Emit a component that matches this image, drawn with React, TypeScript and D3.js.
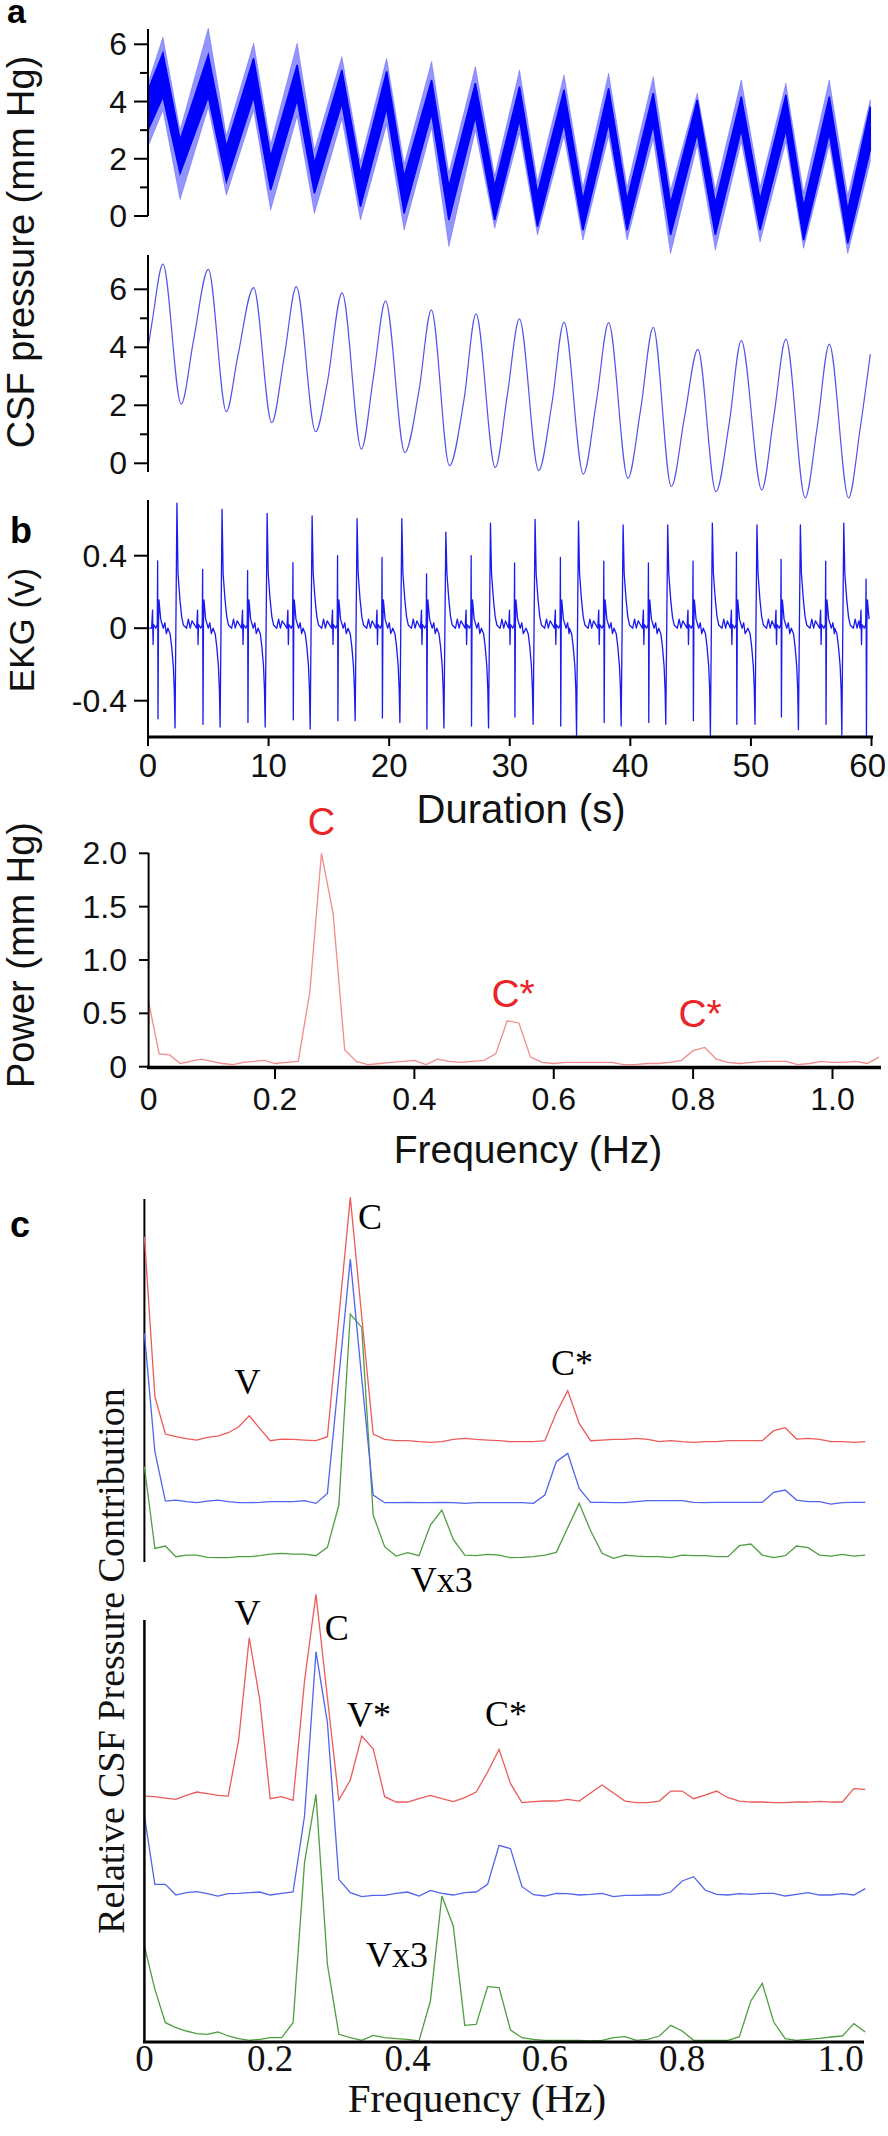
import React from 'react';
import * as d3 from 'd3';

const SANS = '"Liberation Sans", Arial, sans-serif';
const SERIF = '"Liberation Serif", "Times New Roman", serif';

// ---------- Panel a (top): raw CSF pressure, envelope at successive extrema (s, mm Hg) ----------
const rawTimes = [0, 1.24, 2.66, 5.0, 6.5, 8.76, 10.17, 12.37, 13.8, 16.08, 17.62, 19.79, 21.24, 23.52, 24.95, 27.15, 28.75, 30.81, 32.3, 34.5, 36.07, 38.2, 39.73, 41.9, 43.34, 45.55, 47.05, 49.2, 50.76, 52.9, 54.37, 56.5, 58.03, 59.9];
const rawOuterTop = [4.64, 6.25, 3.0, 6.56, 2.8, 6.04, 2.5, 6.04, 2.3, 5.57, 1.9, 5.51, 1.8, 5.4, 1.5, 5.22, 1.4, 5.1, 1.2, 4.93, 1.0, 4.99, 1.0, 4.87, 0.9, 4.29, 0.9, 4.75, 1.0, 4.64, 0.8, 4.75, 0.7, 4.06];
const rawInnerTop = [4.4, 5.69, 2.66, 5.63, 2.42, 5.51, 2.07, 5.28, 1.84, 5.1, 1.49, 5.05, 1.37, 4.75, 1.03, 4.64, 1.03, 4.52, 0.79, 4.41, 0.56, 4.46, 0.56, 4.29, 0.44, 4.06, 0.44, 4.17, 0.56, 4.23, 0.33, 4.17, 0.21, 3.82];
const rawInnerBottom = [3.0, 4.17, 1.49, 4.17, 1.2, 4.17, 0.91, 4.06, 0.79, 3.94, 0.33, 3.76, 0.09, 3.59, -0.14, 3.47, -0.14, 3.36, -0.37, 3.24, -0.49, 3.24, -0.49, 3.18, -0.66, 2.89, -0.66, 3.01, -0.49, 3.01, -0.84, 2.89, -0.96, 2.31];
const rawOuterBottom = [2.42, 3.7, 0.58, 3.8, 0.73, 3.7, 0.21, 3.5, 0.09, 3.4, -0.14, 3.2, -0.49, 3.1, -1.07, 3.0, -0.43, 2.9, -0.66, 2.8, -0.84, 2.8, -0.84, 2.7, -1.31, 2.5, -1.19, 2.6, -0.9, 2.6, -1.13, 2.5, -1.31, 1.9];

// ---------- Panel a (bottom): filtered CSF pressure, extrema and shoulders ----------
const smoothTimes = [0, 0.35, 1.24, 2.75, 3.78, 5.0, 6.5, 7.44, 8.76, 10.26, 11.3, 12.3, 13.9, 14.86, 16.1, 17.7, 18.7, 19.7, 21.3, 22.46, 23.5, 25.0, 26.2, 27.2, 28.8, 29.8, 30.8, 32.4, 33.5, 34.5, 36.1, 37.2, 38.2, 39.8, 40.85, 41.9, 43.4, 44.5, 45.6, 47.1, 48.2, 49.2, 50.9, 51.9, 52.9, 54.5, 55.5, 56.5, 58.1, 59.06, 59.9];
const smoothValues = [3.97, 4.9, 6.87, 2.04, 4.25, 6.69, 1.78, 3.68, 6.06, 1.4, 3.68, 6.09, 1.09, 2.76, 5.88, 0.49, 2.99, 5.6, 0.37, 2.47, 5.29, -0.08, 2.18, 5.15, -0.15, 2.36, 4.98, -0.25, 2.07, 4.87, -0.37, 2.18, 4.85, -0.52, 1.84, 4.69, -0.8, 1.61, 3.93, -0.98, 1.38, 4.23, -0.92, 1.61, 4.28, -1.19, 1.26, 4.11, -1.19, 1.2, 3.76];

// ---------- Panel b: EKG beats (s, V) ----------
const ekgMajorTimes = [2.40, 6.14, 9.88, 13.61, 17.34, 21.05, 24.7, 28.4, 32.1, 35.7, 39.4, 43.1, 46.8, 50.5, 54.1, 57.7];
const ekgMajorPeaks = [0.69, 0.656, 0.634, 0.619, 0.604, 0.604, 0.53, 0.58, 0.60, 0.59, 0.57, 0.57, 0.58, 0.57, 0.57, 0.58];
const ekgMajorTroughs = [-0.55, -0.545, -0.545, -0.556, -0.51, -0.52, -0.55, -0.55, -0.53, -0.59, -0.54, -0.53, -0.59, -0.53, -0.56, -0.59];
const ekgMinorTimes = [0.80, 4.53, 8.26, 12.02, 15.72, 19.41, 23.1, 26.8, 30.4, 34.2, 37.8, 41.5, 45.2, 48.8, 52.5, 56.2, 59.55];
const ekgMinorPeaks = [0.372, 0.325, 0.317, 0.361, 0.40, 0.39, 0.30, 0.40, 0.36, 0.39, 0.37, 0.36, 0.37, 0.42, 0.38, 0.37, 0.27];
const ekgMinorTroughs = [-0.50, -0.53, -0.52, -0.505, -0.51, -0.496, -0.556, -0.54, -0.49, -0.54, -0.52, -0.52, -0.51, -0.53, -0.49, -0.53, -0.60];
// waveform shapes read around one beat ('P' = peak, 'T' = trough of that beat)
const majorShapeDt = [-0.75, -0.57, -0.44, -0.3, -0.22, -0.16, 0, 0.09, 0.25, 0.39, 0.53, 0.8, 0.95, 1.1, 1.25];
const majorShapeV: (number | string)[] = [0.0, -0.03, -0.1, -0.21, -0.34, 'T', 'P', 0.30, 0.156, 0.064, 0.018, 0.0, 0.05, 0.0, 0.04];
const minorShapeDt = [-0.5, -0.42, -0.38, -0.34, -0.15, -0.03, 0, 0.03, 0.07, 0.11, 0.25, 0.47, 0.6, 0.72];
const minorShapeV: (number | string)[] = [0.0, 0.1, -0.09, 0.02, 0.0, 0.02, 'P', 'T', 0.03, 0.156, 0.05, 0.0, 0.03, -0.03];

// ---------- Power spectrum (bins of 1/60 Hz) ----------
const powerValues = [0.61, 0.12, 0.11, 0.03, 0.05, 0.07, 0.05, 0.03, 0.02, 0.04, 0.05, 0.06, 0.03, 0.04, 0.05, 0.70, 2.0, 1.44, 0.16, 0.05, 0.02, 0.03, 0.04, 0.05, 0.06, 0.02, 0.07, 0.05, 0.04, 0.05, 0.06, 0.12, 0.43, 0.41, 0.09, 0.04, 0.03, 0.04, 0.04, 0.04, 0.04, 0.04, 0.02, 0.02, 0.03, 0.03, 0.04, 0.06, 0.15, 0.18, 0.07, 0.04, 0.03, 0.04, 0.05, 0.05, 0.05, 0.02, 0.03, 0.05, 0.04, 0.04, 0.05, 0.03, 0.09];

// ---------- Panel c: relative contribution spectra (stacked, arbitrary units) ----------
const cTopRed = [97.5, 49.5, 38.3, 37.5, 36.9, 36.5, 37.3, 37.7, 38.7, 40.5, 43.8, 40.0, 36.3, 36.8, 36.7, 36.5, 36.3, 37.5, 73.5, 109.3, 73.5, 38.3, 36.7, 36.3, 36.3, 36.0, 35.8, 36.0, 36.7, 37.0, 36.7, 36.5, 36.3, 36.0, 36.0, 36.0, 36.3, 44.7, 51.3, 41.5, 36.3, 36.5, 36.7, 36.7, 37.0, 36.7, 36.0, 36.3, 36.0, 35.8, 36.0, 36.0, 36.3, 36.3, 36.3, 36.3, 39.3, 40.2, 36.8, 37.0, 36.7, 36.0, 36.0, 35.8, 36.0];
const cTopBlue = [68.5, 33.0, 18.2, 18.5, 18.0, 17.7, 18.2, 18.5, 18.0, 17.7, 17.7, 17.8, 18.0, 18.0, 18.0, 18.3, 17.5, 20.5, 55.5, 90.8, 55.0, 20.0, 17.7, 17.7, 17.8, 17.7, 17.7, 17.8, 17.7, 17.5, 17.7, 17.7, 17.7, 17.7, 17.7, 17.5, 20.0, 30.0, 32.5, 22.0, 17.8, 17.8, 17.7, 17.7, 18.0, 18.3, 18.3, 18.3, 18.3, 17.8, 17.7, 17.8, 17.8, 17.8, 17.8, 17.8, 20.8, 21.5, 18.5, 18.0, 18.0, 17.3, 17.7, 17.8, 17.8];
const cTopGreen = [28.5, 4.0, 4.7, 1.5, 2.0, 2.0, 1.3, 1.2, 1.2, 1.5, 1.5, 1.8, 2.3, 2.5, 2.3, 2.3, 1.8, 4.3, 17.0, 74.3, 70.3, 14.0, 4.5, 1.7, 2.7, 1.8, 11.0, 15.5, 6.7, 2.0, 1.8, 2.2, 2.0, 1.2, 1.3, 1.5, 2.0, 2.8, 10.2, 17.5, 9.3, 2.5, 1.0, 2.0, 1.7, 1.5, 1.5, 1.2, 2.0, 1.8, 1.8, 1.5, 1.5, 4.8, 5.3, 2.0, 1.2, 1.8, 4.7, 4.2, 2.0, 1.7, 2.2, 1.7, 2.0];
const cBotRed = [73.5, 73.3, 72.9, 72.5, 73.7, 74.7, 74.2, 73.7, 73.5, 90.5, 121.0, 102.5, 72.7, 73.3, 72.2, 108.0, 134.0, 103.0, 72.3, 78.3, 91.5, 87.7, 73.3, 71.7, 71.7, 72.7, 73.7, 72.7, 71.8, 73.0, 74.7, 80.7, 87.5, 77.2, 71.5, 71.8, 72.0, 72.0, 72.5, 72.0, 74.4, 76.8, 74.4, 72.0, 71.5, 71.5, 72.0, 75.0, 75.0, 72.7, 73.8, 75.0, 73.0, 72.0, 71.7, 71.7, 71.5, 71.5, 71.7, 71.7, 71.9, 71.7, 71.7, 75.7, 75.5];
const cBotBlue = [67.5, 47.0, 47.0, 43.8, 44.5, 44.8, 44.2, 43.5, 44.2, 44.3, 44.5, 44.7, 43.8, 44.3, 44.7, 67.5, 116.8, 95.5, 48.5, 44.5, 43.3, 43.7, 43.7, 44.3, 44.7, 43.5, 45.2, 44.3, 43.8, 44.5, 44.7, 47.0, 58.7, 57.7, 46.3, 43.9, 43.5, 44.3, 44.2, 43.8, 44.0, 44.3, 43.3, 43.7, 43.7, 43.8, 43.8, 44.7, 48.0, 49.3, 45.3, 44.0, 43.8, 44.2, 44.0, 44.3, 44.3, 43.5, 44.0, 44.5, 43.8, 43.8, 44.2, 43.8, 45.7];
const cBotGreen = [28.5, 15.5, 5.5, 4.0, 3.0, 2.2, 2.0, 2.7, 1.5, 0.7, 0.2, 0.5, 1.0, 1.0, 5.5, 53.5, 74.0, 23.0, 2.0, 1.0, 0.2, 1.7, 1.0, 0.7, 0.5, 0.0, 12.0, 43.5, 34.5, 4.7, 5.0, 16.3, 16.0, 3.3, 1.0, 0.5, 0.2, 0.2, 0.2, 0.2, 0.0, 0.2, 1.0, 1.3, 0.2, 0.5, 1.5, 4.7, 3.0, 0.2, 0.2, 0.2, 0.2, 1.3, 12.0, 17.3, 5.7, 0.7, 0.2, 0.5, 0.8, 1.2, 1.5, 5.2, 2.7];

const binWidth = 1 / 60;

const timeTicks = [0, 10, 20, 30, 40, 50, 60];
const rawTicks = [0, 2, 4, 6];
const rawMinor = [1, 3, 5];
const ekgTicks = [-0.4, 0, 0.4];
const powerYTicks = [0, 0.5, 1.0, 1.5, 2.0];
const freqTicks = [0, 0.2, 0.4, 0.6, 0.8, 1.0];

function buildEkg(): { t: number; v: number }[] {
  const pts: { t: number; v: number }[] = [{ t: 0, v: 0 }];
  ekgMinorTimes.forEach((m, i) => {
    minorShapeDt.forEach((dt, k) => {
      const s = minorShapeV[k];
      const v = s === 'P' ? ekgMinorPeaks[i] : s === 'T' ? ekgMinorTroughs[i] : (s as number);
      pts.push({ t: m + dt, v });
    });
  });
  ekgMajorTimes.forEach((M, i) => {
    majorShapeDt.forEach((dt, k) => {
      const s = majorShapeV[k];
      const v = s === 'P' ? ekgMajorPeaks[i] : s === 'T' ? ekgMajorTroughs[i] : (s as number);
      pts.push({ t: M + dt, v });
    });
  });
  return pts.filter((p) => p.t >= 0 && p.t <= 59.9).sort((a, b) => a.t - b.t);
}

export default function App() {
  const xT = d3.scaleLinear().domain([0, 60]).range([148, 871.5]);
  const yRaw = d3.scaleLinear().domain([0, 6]).range([216, 44.3]);
  const ySm = d3.scaleLinear().domain([0, 6]).range([463.3, 289.3]);
  const yE = d3.scaleLinear().domain([-0.4, 0.4]).range([700.7, 555.7]);
  const xP = d3.scaleLinear().domain([0, 0.2, 1.0]).range([148.6, 275, 832.5]);
  const yP = d3.scaleLinear().domain([0, 2]).range([1066.7, 853.3]);
  const xC = d3.scaleLinear().domain([0, 0.2, 1.0]).range([144.4, 270.2, 819.5]);
  const yCt = d3.scaleLinear().domain([0, 100]).range([1561.7, 1228.4]);
  const yCb = d3.scaleLinear().domain([0, 100]).range([2041, 1707.7]);

  const rawPts = rawTimes.map((t, i) => ({ t, ot: rawOuterTop[i], it: rawInnerTop[i], ib: rawInnerBottom[i], ob: rawOuterBottom[i] }));
  const outerArea = d3.area<any>().x((d) => xT(d.t)).y0((d) => yRaw(d.ob)).y1((d) => yRaw(d.ot));
  const innerArea = d3.area<any>().x((d) => xT(d.t)).y0((d) => yRaw(d.ib)).y1((d) => yRaw(d.it));

  const smoothPts = smoothTimes.map((t, i) => ({ t, v: smoothValues[i] }));
  const smoothLine = d3.line<any>().x((d) => xT(d.t)).y((d) => ySm(d.v)).curve(d3.curveMonotoneX);

  const ekgPts = buildEkg();
  const ekgLine = d3.line<any>().x((d) => xT(d.t)).y((d) => yE(d.v));

  const powerLine = d3.line<number>().x((_, i) => xP(i * binWidth)).y((v) => yP(v));
  const cTopLine = d3.line<number>().x((_, i) => xC(i * binWidth)).y((v) => yCt(v));
  const cBotLine = d3.line<number>().x((_, i) => xC(i * binWidth)).y((v) => yCb(v));

  const tickFont = { fontFamily: SANS, fontSize: 32, fill: '#111' } as const;
  const titleFont = { fontFamily: SANS, fill: '#111' } as const;
  const red = '#e8262a';

  return (
    <svg width={888} height={2136} style={{ position: 'absolute', left: 0, top: 0, background: '#fff' }}>
      <rect x={0} y={0} width={888} height={2136} fill="#fff" />
      {/* panel letters */}
      <text x={7} y={23} fontFamily={SANS} fontWeight="bold" fontSize={34}>a</text>
      <text x={10} y={543} fontFamily={SANS} fontWeight="bold" fontSize={36}>b</text>
      <text x={10} y={1237} fontFamily={SANS} fontWeight="bold" fontSize={36}>c</text>

      {/* ===== Panel a top ===== */}
      <path d={outerArea(rawPts) || ''} fill="#2a2aff" fillOpacity={0.5} stroke="#4a4aff" strokeOpacity={0.5} strokeWidth={0.8} />
      <path d={innerArea(rawPts) || ''} fill="#0000ff" stroke="#0000ff" strokeWidth={1.5} />
      <line x1={148} x2={148} y1={29} y2={yRaw(0)} stroke="#000" strokeWidth={2} />
      {rawTicks.map((t) => (
        <g key={'rt' + t}>
          <line x1={134} x2={148} y1={yRaw(t)} y2={yRaw(t)} stroke="#000" strokeWidth={2} />
          <text x={127} y={yRaw(t) + 11} textAnchor="end" {...tickFont}>{t}</text>
        </g>
      ))}
      {rawMinor.map((t) => (
        <line key={'rm' + t} x1={140} x2={148} y1={yRaw(t)} y2={yRaw(t)} stroke="#000" strokeWidth={2} />
      ))}

      {/* ===== Panel a bottom ===== */}
      <path d={smoothLine(smoothPts) || ''} fill="none" stroke="#5252ee" strokeWidth={1.2} />
      <line x1={148} x2={148} y1={255} y2={472} stroke="#000" strokeWidth={2} />
      {rawTicks.map((t) => (
        <g key={'st' + t}>
          <line x1={134} x2={148} y1={ySm(t)} y2={ySm(t)} stroke="#000" strokeWidth={2} />
          <text x={127} y={ySm(t) + 11} textAnchor="end" {...tickFont}>{t}</text>
        </g>
      ))}
      {rawMinor.map((t) => (
        <line key={'sm' + t} x1={140} x2={148} y1={ySm(t)} y2={ySm(t)} stroke="#000" strokeWidth={2} />
      ))}
      <text transform="translate(34,252) rotate(-90)" textAnchor="middle" fontSize={38} {...titleFont}>CSF pressure (mm Hg)</text>

      {/* ===== Panel b ===== */}
      <path d={ekgLine(ekgPts) || ''} fill="none" stroke="#1a1af2" strokeWidth={1.3} strokeLinejoin="round" />
      <line x1={148} x2={148} y1={500} y2={737} stroke="#000" strokeWidth={2} />
      {ekgTicks.map((t) => (
        <g key={'et' + t}>
          <line x1={134} x2={148} y1={yE(t)} y2={yE(t)} stroke="#000" strokeWidth={2} />
          <text x={127} y={yE(t) + 11} textAnchor="end" {...tickFont}>{t === 0 ? '0' : t.toFixed(1)}</text>
        </g>
      ))}
      <line x1={147} x2={873} y1={737} y2={737} stroke="#000" strokeWidth={3} />
      {timeTicks.map((t) => (
        <g key={'xt' + t}>
          <line x1={xT(t)} x2={xT(t)} y1={737} y2={746} stroke="#000" strokeWidth={2} />
          <text x={t === 60 ? 886 : xT(t)} y={777} textAnchor={t === 60 ? 'end' : 'middle'} {...tickFont} fontSize={33}>{t}</text>
        </g>
      ))}
      <text x={521} y={823} textAnchor="middle" fontSize={40} {...titleFont}>Duration (s)</text>
      <text transform="translate(34,630) rotate(-90)" textAnchor="middle" fontSize={35} {...titleFont}>EKG (v)</text>

      {/* ===== Power spectrum ===== */}
      <path d={powerLine(powerValues) || ''} fill="none" stroke="#f08c8c" strokeWidth={1.3} />
      <line x1={148.6} x2={148.6} y1={853} y2={1067} stroke="#000" strokeWidth={2} />
      {powerYTicks.map((t) => (
        <g key={'py' + t}>
          <line x1={139} x2={148.6} y1={yP(t)} y2={yP(t)} stroke="#000" strokeWidth={2} />
          <text x={127} y={yP(t) + 11} textAnchor="end" {...tickFont}>{t === 0 ? '0' : t.toFixed(1)}</text>
        </g>
      ))}
      <line x1={147} x2={881} y1={1067.5} y2={1067.5} stroke="#000" strokeWidth={3.5} />
      {freqTicks.map((t) => (
        <g key={'px' + t}>
          {t > 0 && <line x1={xP(t)} x2={xP(t)} y1={1067} y2={1079} stroke="#000" strokeWidth={2} />}
          <text x={xP(t)} y={1110} textAnchor="middle" {...tickFont}>{t === 0 ? '0' : t.toFixed(1)}</text>
        </g>
      ))}
      <text x={528} y={1163} textAnchor="middle" fontSize={39} {...titleFont}>Frequency (Hz)</text>
      <text transform="translate(34,955) rotate(-90)" textAnchor="middle" fontSize={38} {...titleFont}>Power (mm Hg)</text>
      <text x={xP(16 * binWidth)} y={835} textAnchor="middle" fontFamily={SANS} fontSize={38} fill={red}>C</text>
      <text x={xP(32.5 * binWidth)} y={1007} textAnchor="middle" fontFamily={SANS} fontSize={39} fill={red}>C*</text>
      <text x={xP(48.6 * binWidth)} y={1027} textAnchor="middle" fontFamily={SANS} fontSize={39} fill={red}>C*</text>

      {/* ===== Panel c top ===== */}
      <line x1={144.4} x2={144.4} y1={1199} y2={1562} stroke="#000" strokeWidth={2} />
      <path d={cTopLine(cTopGreen) || ''} fill="none" stroke="#4f9e42" strokeWidth={1.3} />
      <path d={cTopLine(cTopBlue) || ''} fill="none" stroke="#5263ec" strokeWidth={1.3} />
      <path d={cTopLine(cTopRed) || ''} fill="none" stroke="#ec5a5a" strokeWidth={1.3} />
      <text x={370} y={1229} textAnchor="middle" fontFamily={SERIF} fontSize={36}>C</text>
      <text x={247.5} y={1394} textAnchor="middle" fontFamily={SERIF} fontSize={36}>V</text>
      <text x={572} y={1375} textAnchor="middle" fontFamily={SERIF} fontSize={36}>C*</text>
      <text x={441.7} y={1592} textAnchor="middle" fontFamily={SERIF} fontSize={36}>Vx3</text>

      {/* ===== Panel c bottom ===== */}
      <path d={cBotLine(cBotGreen) || ''} fill="none" stroke="#4f9e42" strokeWidth={1.3} />
      <path d={cBotLine(cBotBlue) || ''} fill="none" stroke="#5263ec" strokeWidth={1.3} />
      <path d={cBotLine(cBotRed) || ''} fill="none" stroke="#ec5a5a" strokeWidth={1.3} />
      <line x1={144.4} x2={144.4} y1={1620} y2={2042} stroke="#000" strokeWidth={2.5} />
      <line x1={143} x2={864} y1={2042} y2={2042} stroke="#000" strokeWidth={3} />
      {freqTicks.map((t) => (
        <text key={'cx' + t} x={xC(t) + (t === 1.0 ? 21 : 0)} y={2071} textAnchor="middle" fontFamily={SERIF} fontSize={37} fill="#111">
          {t === 0 ? '0' : t.toFixed(1)}
        </text>
      ))}
      <text x={477} y={2112} textAnchor="middle" fontFamily={SERIF} fontSize={41} fill="#111">Frequency (Hz)</text>
      <text x={247.5} y={1625} textAnchor="middle" fontFamily={SERIF} fontSize={36}>V</text>
      <text x={336.7} y={1640} textAnchor="middle" fontFamily={SERIF} fontSize={36}>C</text>
      <text x={369} y={1727} textAnchor="middle" fontFamily={SERIF} fontSize={36}>V*</text>
      <text x={506} y={1726} textAnchor="middle" fontFamily={SERIF} fontSize={36}>C*</text>
      <text x={397} y={1967} textAnchor="middle" fontFamily={SERIF} fontSize={36}>Vx3</text>
      <text transform="translate(124,1661) rotate(-90)" textAnchor="middle" fontFamily={SERIF} fontSize={38} fill="#111">Relative CSF Pressure Contribution</text>
    </svg>
  );
}
